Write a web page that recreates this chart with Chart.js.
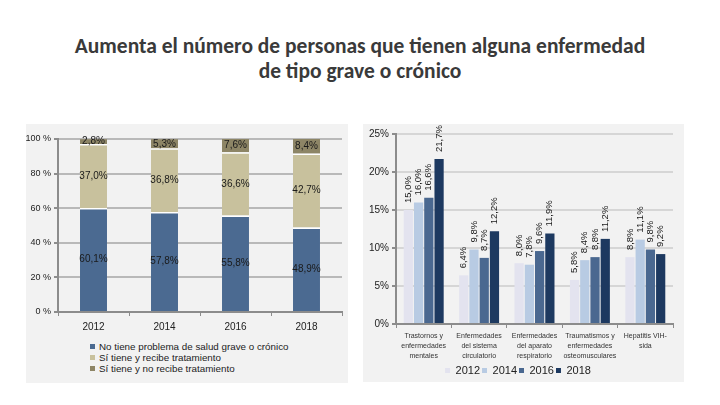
<!DOCTYPE html>
<html>
<head>
<meta charset="utf-8">
<script src="https://cdn.jsdelivr.net/npm/chart.js@4/dist/chart.umd.min.js"></script>
<style>
  body { margin: 0; width: 720px; height: 405px; background: #fff; position: relative; overflow: hidden; font-family: "Liberation Sans", Arial, sans-serif; }
  #titulo { position: absolute; left: 0; top: 34px; width: 720px; text-align: center; font-family: Carlito, Calibri, Lato, sans-serif; font-weight: bold; font-size: 21.5px; line-height: 25px; color: #3a3a3a; letter-spacing: 0; }
  .panel { position: absolute; background: #f2f2f2; }
  canvas { position: absolute; }
  #leyenda { position: absolute; left: 90px; top: 341px; font-size: 9.8px; line-height: 11px; color: #222; }
  #leyenda span { display: inline-block; width: 5px; height: 5px; margin-right: 4px; vertical-align: 1px; }
</style>
</head>
<body>
<div id="titulo">Aumenta el número de personas que tienen alguna enfermedad<br>de tipo grave o crónico</div>
<div class="panel" style="left:26px; top:124px; width:322px; height:259px;"></div>
<div class="panel" style="left:363px; top:124px; width:321px; height:258px;"></div>
<canvas id="izq" width="355" height="225" style="left:0; top:110px;"></canvas>
<canvas id="der" width="321" height="280" style="left:363px; top:110px;"></canvas>
<div id="leyenda"></div>
<script>
// datos grafico izquierdo (%)
const anios = ['2012', '2014', '2016', '2018'];
const noTiene = [60.1, 57.8, 55.8, 48.9];
const tieneRecibe = [37.0, 36.8, 36.6, 42.7];
const tieneNoRecibe = [2.8, 5.3, 7.6, 8.4];
const seriesIzq = ['No tiene problema de salud grave o crónico', 'Sí tiene y recibe tratamiento', 'Sí tiene y no recibe tratamiento'];

// datos grafico derecho (%)
const enfermedades = [
	['Trastornos y', 'enfermedades', 'mentales'],
	['Enfermedades', 'del sistema', 'circulatorio'],
	['Enfermedades', 'del aparato', 'respiratorio'],
	['Traumatismos y', 'enfermedades', 'osteomusculares'],
	['Hepatitis VIH-', 'sida'],
];
const v2012 = [15.0, 6.4, 8.0, 5.8, 8.8];
const v2014 = [16.0, 9.8, 7.8, 8.4, 11.1];
const v2016 = [16.6, 8.7, 9.6, 8.8, 9.8];
const v2018 = [21.7, 12.2, 11.9, 11.2, 9.2];

const coloresIzq = ['#4b6a91', '#c8c19d', '#8d8566'];
const coloresDer = ['#e3e3ef', '#b8cbe3', '#4a6890', '#1d3960'];

const fmt = v => v.toFixed(1).replace('.', ',') + '%';

// etiquetas de valores sobre las barras
const etiquetas = {
	id: 'etiquetas',
	afterDatasetsDraw(chart, args, opts) {
		const ctx = chart.ctx;
		ctx.save();
		ctx.font = opts.font;
		ctx.fillStyle = '#1a1a1a';
		chart.data.datasets.forEach((ds, i) => {
			chart.getDatasetMeta(i).data.forEach((bar, j) => {
				const txt = fmt(ds.data[j]);
				if (opts.rotar) {
					ctx.save();
					ctx.translate(bar.x, bar.y - 7);
					ctx.rotate(-Math.PI / 2);
					ctx.textAlign = 'left';
					ctx.textBaseline = 'middle';
					ctx.fillText(txt, 0, 0);
					ctx.restore();
				} else {
					ctx.textAlign = 'center';
					ctx.textBaseline = 'middle';
					ctx.fillText(txt, bar.x, (bar.y + bar.base) / 2);
				}
			});
		});
		ctx.restore();
	}
};

// leyenda izquierda
document.getElementById('leyenda').innerHTML = seriesIzq
	.map((s, i) => '<div><span style="background:' + coloresIzq[i] + '"></span>' + s + '</div>').join('');

let izqConfig = {
	type: 'bar',
	data: {
		labels: anios,
		datasets: [
			{ label: seriesIzq[0], data: noTiene, backgroundColor: coloresIzq[0], borderColor: '#fff', borderWidth: { top: 1.5, left: 0, right: 0, bottom: 0 }, borderSkipped: false },
			{ label: seriesIzq[1], data: tieneRecibe, backgroundColor: coloresIzq[1], borderColor: '#fff', borderWidth: { top: 1.5, left: 0, right: 0, bottom: 0 }, borderSkipped: false },
			{ label: seriesIzq[2], data: tieneNoRecibe, backgroundColor: coloresIzq[2] },
		],
	},
	options: {
		responsive: false,
		animation: false,
		layout: { padding: { top: 29, right: 13, bottom: 0, left: 0 } },
		barPercentage: 0.38,
		categoryPercentage: 1,
		plugins: {
			legend: { display: false },
			tooltip: { enabled: false },
			etiquetas: { font: '10px "Liberation Sans", Arial', rotar: false },
		},
		scales: {
			x: {
				stacked: true,
				afterFit: s => { s.height = 23; },
				grid: { drawOnChartArea: false, tickLength: 4, color: '#8c8c8c', offset: true },
				border: { color: '#8c8c8c', width: 2 },
				ticks: { color: '#222', font: { family: '"Liberation Sans", Arial', size: 10 }, padding: 5 },
			},
			y: {
				stacked: true,
				min: 0,
				max: 100,
				afterFit: s => { s.width = 58; },
				grid: { color: '#b9b9b9', lineWidth: 2, tickLength: 4, tickColor: '#8c8c8c' },
				border: { color: '#8c8c8c', width: 2 },
				ticks: { stepSize: 20, color: '#222', font: { family: '"Liberation Sans", Arial', size: 9 }, padding: 3, callback: v => v + ' %' },
			},
		},
	},
	plugins: [etiquetas],
};
new Chart(document.getElementById('izq'), izqConfig);

let derConfig = {
	type: 'bar',
	data: {
		labels: enfermedades,
		datasets: [
			{ label: '2012', data: v2012, backgroundColor: coloresDer[0] },
			{ label: '2014', data: v2014, backgroundColor: coloresDer[1] },
			{ label: '2016', data: v2016, backgroundColor: coloresDer[2] },
			{ label: '2018', data: v2018, backgroundColor: coloresDer[3] },
		],
	},
	options: {
		responsive: false,
		animation: false,
		layout: { padding: { top: 24, right: 11, bottom: 4, left: 0 } },
		barPercentage: 0.9,
		categoryPercentage: 0.74,
		plugins: {
			legend: {
				position: 'bottom',
				labels: { boxWidth: 5, boxHeight: 5, padding: 2, color: '#222', font: { family: '"Liberation Sans", Arial', size: 11 } },
			},
			tooltip: { enabled: false },
			etiquetas: { font: '9.5px "Liberation Sans", Arial', rotar: true },
		},
		scales: {
			x: {
				afterFit: s => { s.height = 39; },
				grid: { drawOnChartArea: false, tickLength: 4, color: '#8c8c8c', offset: true },
				border: { color: '#8c8c8c', width: 2 },
				ticks: { color: '#333', maxRotation: 0, autoSkip: false, padding: 3, font: { family: '"Liberation Sans", Arial', size: 7, lineHeight: 1.45 } },
			},
			y: {
				min: 0,
				max: 25,
				afterFit: s => { s.width = 33; },
				grid: { color: '#d6d6d6', lineWidth: 2, tickLength: 4, tickColor: '#8c8c8c' },
				border: { color: '#8c8c8c', width: 2 },
				ticks: { stepSize: 5, color: '#222', font: { family: '"Liberation Sans", Arial', size: 10 }, padding: 3, callback: v => v + '%' },
			},
		},
	},
	plugins: [etiquetas],
};
new Chart(document.getElementById('der'), derConfig);
</script>
</body>
</html>
